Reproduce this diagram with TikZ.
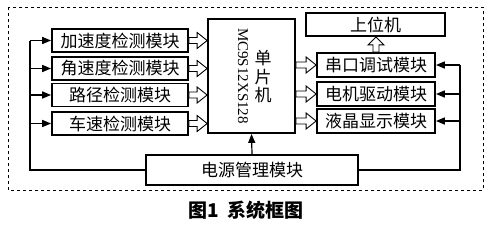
\documentclass[tikz,border=0pt]{standalone}
\usepackage{fontspec}
\newfontfamily\cjk{Noto Sans CJK SC}
\setmainfont{Liberation Serif}
\usetikzlibrary{arrows.meta,calc}

% hollow block arrows between two points
\newcommand{\hollowright}[2]{%
  \draw[hollow] let \p1=(#1), \p2=(#2) in
    (\x1,\y1+3pt) -- (\x2-10pt,\y1+3pt) -- (\x2-10pt,\y1+8pt) -- (\x2,\y1)
    -- (\x2-10pt,\y1-8pt) -- (\x2-10pt,\y1-3pt) -- (\x1,\y1-3pt) -- cycle;}
\newcommand{\hollowup}[2]{%
  \draw[hollow] let \p1=(#1), \p2=(#2) in
    (\x1+3pt,\y1) -- (\x1+3pt,\y2-8pt) -- (\x1+8pt,\y2-8pt) -- (\x1,\y2)
    -- (\x1-8pt,\y2-8pt) -- (\x1-3pt,\y2-8pt) -- (\x1-3pt,\y1) -- cycle;}

\begin{document}
\begin{tikzpicture}[x=1pt,y=-1pt,
    module/.style={draw, line width=1.8pt, inner sep=0pt, font=\cjk\fontsize{17}{19}\selectfont},
    hollow/.style={draw, fill=white, line width=0.9pt},
    feed/.style={line width=1.6pt, -{Triangle[length=9pt,width=7pt]}}]
    \useasboundingbox (0,0) rectangle (494,225);

    % Outer dashed frame
    \draw[dashed, line width=0.7pt] (8,7) rectangle (483,190);

    % Sensor modules
    \node[module, minimum width=136pt, minimum height=23pt] (acc) at (120,40.5) {加速度检测模块};
    \node[module, minimum width=136pt, minimum height=23pt] (ang) at (120,68.5) {角速度检测模块};
    \node[module, minimum width=136pt, minimum height=23pt] (road) at (120,95) {路径检测模块};
    \node[module, minimum width=136pt, minimum height=23pt] (spd) at (120,123.5) {车速检测模块};

    % Microcontroller
    \node[module, minimum width=87pt, minimum height=114pt] (mcu) at (251.5,76) {};
    \node[font=\fontsize{15}{15}\selectfont, rotate=-90] (chip) at (243,76) {MC9S12XS128};
    \node[font=\cjk\fontsize{17}{18.5}\selectfont, align=center] (mcuname) at (263,77) {单\\片\\机};

    % Output modules
    \node[module, minimum width=139pt, minimum height=23pt] (host) at (375.5,24.5) {上位机};
    \node[module, minimum width=118pt, minimum height=24pt] (serial) at (376,65) {串口调试模块};
    \node[module, minimum width=118pt, minimum height=24pt] (motor) at (376,94) {电机驱动模块};
    \node[module, minimum width=118pt, minimum height=24pt] (lcd) at (376,121) {液晶显示模块};

    % Power supply
    \node[module, minimum width=212pt, minimum height=30pt] (power) at (252,170) {电源管理模块};

    % Data flow
    \hollowright{acc.east}{mcu.west}
    \hollowright{ang.east}{mcu.west}
    \hollowright{road.east}{mcu.west}
    \hollowright{spd.east}{mcu.west}
    \hollowright{mcu.east |- serial.west}{serial.west}
    \hollowright{mcu.east |- motor.west}{motor.west}
    \hollowright{mcu.east |- lcd.west}{lcd.west}
    \hollowup{serial.north}{host.south}

    % Power distribution
    \coordinate (lbus) at (30,40.5);
    \coordinate (rbus) at (460,65);
    \draw[line width=1.6pt] (power.west) -| (lbus);
    \draw[feed] (lbus) -- (acc.west);
    \draw[feed] (lbus |- ang.west) -- (ang.west);
    \draw[feed] (lbus |- road.west) -- (road.west);
    \draw[feed] (lbus |- spd.west) -- (spd.west);
    \draw[line width=1.6pt] (power.east) -| (rbus);
    \draw[feed] (rbus) -- (serial.east);
    \draw[feed] (rbus |- motor.east) -- (motor.east);
    \draw[feed] (rbus |- lcd.east) -- (lcd.east);
    \draw[line width=1.2pt, -{Triangle[length=9pt,width=7pt]}] (power.north) -- (mcu.south);

    % Caption
    \node[font=\cjk\bfseries\fontsize{19}{19}\selectfont] (caption) at (246,210) {图1\ \ 系统框图};
\end{tikzpicture}
\end{document}
